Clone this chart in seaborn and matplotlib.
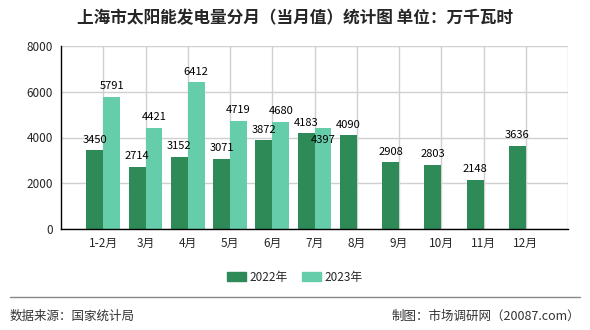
import numpy as np
import pandas as pd
import matplotlib
matplotlib.use("Agg")
import matplotlib.pyplot as plt
import seaborn as sns
from matplotlib.lines import Line2D

months = ['1-2月', '3月', '4月', '5月', '6月', '7月', '8月', '9月', '10月', '11月', '12月']
v2022 = [3450, 2714, 3152, 3071, 3872, 4183, 4090, 2908, 2803, 2148, 3636]
v2023 = [5791, 4421, 6412, 4719, 4680, 4397, np.nan, np.nan, np.nan, np.nan, np.nan]
series = ['2022年', '2023年']
colors = ['#2E8B57', '#66CDAA']
yticks = [0, 2000, 4000, 6000, 8000]
title = '上海市太阳能发电量分月（当月值）统计图 单位：万千瓦时'
source = '数据来源：国家统计局'
credit = '制图：市场调研网（20087.com）'

df = pd.DataFrame({
    'month': months * 2,
    'value': v2022 + v2023,
    'year': [series[0]] * len(months) + [series[1]] * len(months),
})

sns.set_theme(style='white')
plt.rcParams['font.family'] = ['Noto Sans CJK SC', 'DejaVu Sans']
plt.rcParams['axes.unicode_minus'] = False

fig = plt.figure(figsize=(5.9, 3.3), dpi=100)
ax = fig.add_axes([61 / 590, 1 - 229 / 330, (568 - 61) / 590, (229 - 46) / 330])

sns.barplot(data=df, x='month', y='value', hue='year', order=months,
            hue_order=series, palette=colors, width=0.8, saturation=1,
            ax=ax, legend=False, edgecolor='none', linewidth=0)

# value labels; a 2023 label that would collide with the 2022 label of the same month drops down
c22, c23 = ax.containers[0], ax.containers[1]
for i, b in enumerate(c22):
    h = b.get_height()
    if not np.isnan(h):
        ax.annotate(f'{int(round(h))}', (b.get_x() + b.get_width() / 2, h),
                    xytext=(0, 4), textcoords='offset points', ha='center', va='bottom',
                    fontsize=8, color='black')
for i, b in enumerate(c23):
    h = b.get_height()
    if np.isnan(h):
        continue
    collide = abs(h - v2022[i]) < 500
    off = (0, -12) if collide else (0, 4)
    ax.annotate(f'{int(round(h))}', (b.get_x() + b.get_width() / 2, h),
                xytext=off, textcoords='offset points', ha='center', va='bottom',
                fontsize=8, color='black')

ax.set_xlim(-1, len(months))
ax.set_ylim(yticks[0], yticks[-1])
ax.set_yticks(yticks)
ax.set_xticks(list(range(len(months) + 1)))
ax.set_xticklabels(months + [''], fontsize=8.5)
ax.set_xticks([-1, len(months)], minor=True)
ax.tick_params(axis='x', which='major', length=0, pad=6)
ax.tick_params(axis='x', which='minor', length=4, color='black', width=1)
ax.tick_params(axis='y', length=4, color='black', width=1, labelsize=8.5, pad=2)
ax.set_xlabel('')
ax.set_ylabel('')
ax.grid(True, color='#d0d0d0', linewidth=1)
ax.set_axisbelow(True)
for s in ['top', 'right']:
    ax.spines[s].set_visible(False)
for s in ['left', 'bottom']:
    ax.spines[s].set_color('black')
    ax.spines[s].set_linewidth(1)

handles = [plt.Rectangle((0, 0), 1, 1, color=c) for c in colors]
fig.legend(handles, series, loc='center', bbox_to_anchor=(0.5, 1 - 277 / 330),
           ncol=2, frameon=False, fontsize=8.5, handlelength=1.6, handleheight=0.7,
           handletextpad=0.3, columnspacing=1.2)

fig.text(0.5, 1 - 18 / 330, title, ha='center', va='center', fontsize=12, fontweight='bold')
fig.add_artist(Line2D([10 / 590, 580 / 590], [1 - 297 / 330] * 2, color='#888888', linewidth=1))
fig.text(10 / 590, 1 - 316 / 330, source, ha='left', va='center', fontsize=9, color='#333333')
fig.text(580 / 590, 1 - 316 / 330, credit, ha='right', va='center', fontsize=9, color='#333333')

fig.savefig('out.png', dpi=100)
